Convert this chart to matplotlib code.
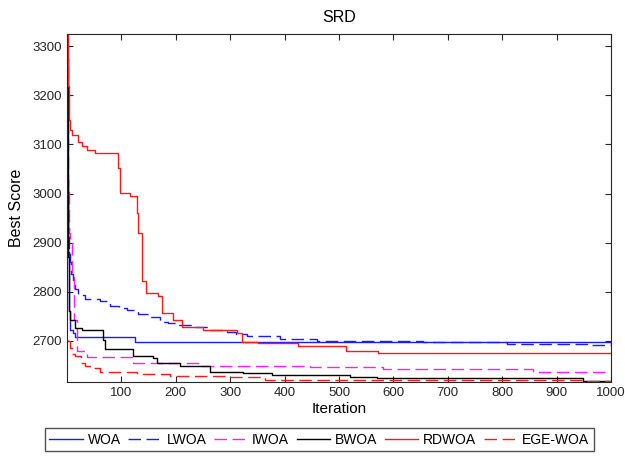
import matplotlib
matplotlib.use("Agg")
import matplotlib.pyplot as plt

plt.rcParams['font.family'] = ['Liberation Sans', 'DejaVu Sans']

# convergence histories: iteration where the best score changes, and the new value
woa_it = [1, 2, 3, 5, 11, 15, 125, 1000]
woa_val = [3028, 2880, 2760, 2722, 2716, 2708, 2697, 2696]

lwoa_it = [1, 2, 3, 5, 8, 11, 15, 21, 33, 61, 79, 95, 110, 130, 153, 171, 185,
           202, 232, 263, 294, 310, 330, 342, 392, 459, 520, 655, 808, 955, 1000]
lwoa_val = [2985, 2930, 2880, 2860, 2835, 2824, 2805, 2794, 2785, 2780, 2770,
            2766, 2763, 2755, 2748, 2739, 2736, 2733, 2728, 2722, 2717, 2714,
            2710, 2709, 2703, 2700, 2699, 2698, 2694, 2692, 2692]

iwoa_it = [1, 2, 3, 5, 9, 12, 18, 36, 122, 245, 446, 580, 857, 1000]
iwoa_val = [3260, 3010, 2920, 2900, 2830, 2743, 2680, 2666, 2655, 2648, 2647,
            2642, 2636, 2636]

bwoa_it = [1, 2, 3, 5, 15, 27, 67, 70, 122, 159, 165, 208, 263, 324, 376,
           520, 569, 949, 1000]
bwoa_val = [3275, 2870, 2760, 2743, 2726, 2721, 2702, 2683, 2669, 2665, 2654,
            2648, 2637, 2634, 2631, 2627, 2624, 2617, 2617]

rdwoa_it = [1, 2, 3, 5, 10, 20, 27, 36, 51, 94, 97, 116, 128, 131, 137, 145,
            168, 174, 195, 211, 250, 312, 321, 351, 425, 512, 572, 1000]
rdwoa_val = [3400, 3220, 3149, 3130, 3120, 3104, 3097, 3088, 3082, 3053, 3002,
             2995, 2960, 2920, 2821, 2798, 2792, 2756, 2743, 2729, 2721, 2716,
             2698, 2695, 2690, 2680, 2676, 2676]

ege_it = [1, 2, 5, 10, 15, 25, 33, 42, 61, 128, 189, 300, 364, 949, 1000]
ege_val = [2702, 2700, 2685, 2672, 2668, 2655, 2648, 2644, 2636, 2632, 2629,
           2627, 2621, 2618, 2618]

series = [
    ('WOA', woa_it, woa_val, '#1a1aff', '-'),
    ('LWOA', lwoa_it, lwoa_val, '#1a1aff', '--'),
    ('IWOA', iwoa_it, iwoa_val, '#ff1aff', '--'),
    ('BWOA', bwoa_it, bwoa_val, '#000000', '-'),
    ('RDWOA', rdwoa_it, rdwoa_val, '#ff1a1a', '-'),
    ('EGE-WOA', ege_it, ege_val, '#ff1a1a', '--'),
]

fig = plt.figure(figsize=(6.25, 4.59), dpi=100)
ax = fig.add_axes([0.1072, 0.1678, 0.8704, 0.7581])

for name, it, val, color, ls in series:
    line, = ax.step(it, val, where='post', color=color, linestyle=ls,
                    linewidth=1.0, label=name)
    if ls == '--':
        line.set_dashes((9, 4))

ax.set_xlim(0, 1000)
ax.set_ylim(2616, 3325)
ax.set_xticks(range(100, 1001, 100))
ax.set_yticks(range(2700, 3301, 100))
ax.tick_params(direction='in', length=4, width=0.8, top=True, right=True,
               labelsize=9.5, colors='#262626')
for sp in ax.spines.values():
    sp.set_linewidth(0.8)
    sp.set_color('#262626')

ax.set_title('SRD', fontsize=11.5, pad=9)
ax.set_xlabel('Iteration', fontsize=11, labelpad=2)
ax.set_ylabel('Best Score', fontsize=11.5, labelpad=6)

leg = fig.legend(loc='lower center', bbox_to_anchor=(0.511, 0.003), ncol=6,
                 fontsize=10, frameon=True, fancybox=False, handlelength=2.4,
                 handletextpad=0.35, columnspacing=0.55, borderpad=0.3)
leg.get_frame().set_edgecolor('#262626')
leg.get_frame().set_linewidth(1.0)

fig.savefig('out.png', dpi=100)
